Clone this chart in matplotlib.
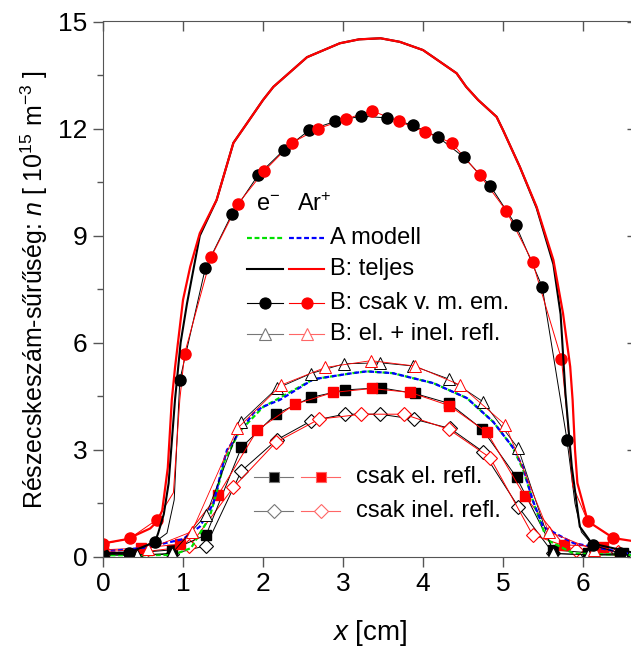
import numpy as np
import matplotlib
matplotlib.use("Agg")
import matplotlib.pyplot as plt
from matplotlib.lines import Line2D

# =========================
# STYLE
# =========================
plt.rcParams["font.family"] = ["Liberation Sans", "DejaVu Sans"]
plt.rcParams["mathtext.fontset"] = "custom"
plt.rcParams["mathtext.rm"] = "Liberation Sans"
plt.rcParams["mathtext.it"] = "Liberation Sans:italic"

RED = "#ff0000"
BLK = "#000000"
GREEN = "#00e000"
BLUE = "#0000ff"

# =========================
# DATA
# =========================
# B: teljes (total), Ar+ and e-
x_ar_tot = [0, 0.3, 0.59, 0.68, 0.74, 0.81, 0.86, 0.9, 1.0, 1.09, 1.21, 1.42, 1.63, 1.8, 2.0, 2.13,
            2.55, 2.96, 3.2, 3.47, 3.71, 4.0, 4.13, 4.42, 4.54, 4.69, 4.92, 5.0, 5.21, 5.42, 5.63,
            5.75, 5.84, 5.87, 5.9, 5.93, 6.06, 6.38, 6.67]
y_ar_tot = [0.38, 0.5, 0.8, 1.0, 1.3, 2.5, 4.4, 5.3, 7.2, 8.13, 9.07, 10.0, 11.6, 12.15, 12.8, 13.17,
            14.0, 14.39, 14.5, 14.53, 14.43, 14.2, 14.0, 13.55, 13.17, 12.8, 12.33, 11.96, 10.93, 9.81, 8.32,
            6.83, 5.33, 4.4, 3.0, 2.07, 1.0, 0.53, 0.43]

# electron total: hidden under the Ar+ total in the bulk, inside it at the walls
x_e_tot = [0, 0.33, 0.65, 0.69, 0.76, 0.82, 0.9, 0.97, 1.05, 1.21, 1.42, 1.63, 1.8, 2.0, 2.13, 2.55,
           2.96, 3.2, 3.47, 3.71, 4.0, 4.13, 4.42, 4.54, 4.69, 4.92, 5.0, 5.21, 5.42, 5.63, 5.72,
           5.78, 5.86, 5.96, 6.11, 6.67]
y_e_tot = [0.1, 0.13, 0.42, 0.67, 1.2, 2.06, 4.4, 6.0, 7.1, 9.0, 10.0, 11.6, 12.15, 12.8, 13.17, 14.0,
           14.39, 14.5, 14.53, 14.43, 14.2, 14.0, 13.55, 13.17, 12.8, 12.33, 11.96, 10.93, 9.78, 8.2, 6.8,
           4.6, 2.53, 0.85, 0.38, 0.1]

# B: csak v. m. em. (circles)
x_ar_vm = [0, 0.34, 0.67, 1.02, 1.35, 1.69, 2.01, 2.36, 2.69, 3.04, 3.36, 3.70, 4.03, 4.36, 4.71,
           5.04, 5.37, 5.73, 6.06, 6.38]
y_ar_vm = [0.36, 0.53, 1.04, 5.7, 8.4, 9.9, 10.8, 11.6, 12.0, 12.27, 12.5, 12.2, 11.9, 11.6, 10.7,
           9.7, 8.26, 5.55, 1.0, 0.53]
xk_ar_vm = [0.88, 0.96, 5.8, 5.87]
yk_ar_vm = [1.8, 4.4, 4.0, 2.0]

x_e_vm = [0, 0.32, 0.65, 0.96, 1.28, 1.61, 1.94, 2.26, 2.58, 2.90, 3.23, 3.55, 3.87, 4.19, 4.51,
          4.84, 5.16, 5.49, 5.80, 6.12, 6.46]
y_e_vm = [0.08, 0.11, 0.42, 4.95, 8.1, 9.6, 10.7, 11.4, 11.96, 12.2, 12.35, 12.3, 12.1, 11.76, 11.2,
          10.4, 9.3, 7.57, 3.28, 0.33, 0.11]
xk_e_vm = [0.80, 0.89, 0.94, 5.9, 5.98]
yk_e_vm = [0.67, 1.6, 4.0, 1.5, 0.7]

# B: el. + inel. refl. (open triangles)
x_ar_tri = [0, 0.56, 1.11, 1.68, 2.23, 2.78, 3.35, 3.90, 4.46, 5.03, 5.57, 6.14]
y_ar_tri = [0.15, 0.22, 0.71, 3.6, 4.82, 5.31, 5.5, 5.35, 4.82, 3.70, 0.71, 0.2]
x_e_tri = [0, 0.43, 0.86, 1.29, 1.73, 2.17, 2.60, 3.01, 3.46, 3.88, 4.33, 4.75, 5.19, 5.63, 6.06, 6.50]
y_e_tri = [0.08, 0.06, 0.10, 1.18, 3.79, 4.72, 5.14, 5.41, 5.44, 5.35, 4.98, 4.35, 3.04, 0.1, 0.06, 0.08]

# csak el. refl. (filled squares)
x_ar_sq = [0, 0.48, 0.96, 1.44, 1.93, 2.40, 2.88, 3.36, 3.84, 4.33, 4.80, 5.27, 5.76, 6.25]
y_ar_sq = [0.2, 0.25, 0.36, 1.74, 3.56, 4.28, 4.61, 4.72, 4.61, 4.24, 3.49, 1.71, 0.34, 0.29]
x_e_sq = [0, 0.43, 0.86, 1.29, 1.73, 2.16, 2.60, 3.02, 3.47, 3.90, 4.33, 4.74, 5.17, 5.63, 6.06, 6.50]
y_e_sq = [0.1, 0.12, 0.2, 0.62, 3.07, 4.0, 4.47, 4.68, 4.74, 4.58, 4.3, 3.58, 2.23, 0.2, 0.12, 0.1]

# csak inel. refl. (open diamonds)
x_ar_dia = [0, 0.53, 1.08, 1.63, 2.16, 2.70, 3.23, 3.76, 4.32, 4.84, 5.37, 5.91, 6.44]
y_ar_dia = [0.1, 0.15, 0.3, 1.95, 3.21, 3.86, 4.0, 4.0, 3.58, 2.78, 0.62, 0.2, 0.15]
x_e_dia = [0, 0.43, 0.86, 1.29, 1.73, 2.17, 2.60, 3.02, 3.46, 3.89, 4.34, 4.75, 5.19, 5.63, 6.06, 6.50]
y_e_dia = [0.05, 0.05, 0.08, 0.32, 2.41, 3.28, 3.81, 4.0, 4.0, 3.86, 3.6, 2.95, 1.41, 0.1, 0.06, 0.05]

# A modell (dashed)
x_ar_A = [0, 0.5, 1.0, 1.21, 1.38, 1.50, 1.55, 1.88, 2.0, 2.21, 2.63, 3.12, 3.3, 3.62, 3.71, 4.13,
          4.55, 4.88, 5.12, 5.25, 5.37, 5.50, 5.88, 6.2, 6.55, 6.67]
y_ar_A = [0.15, 0.25, 0.5, 0.85, 1.5, 2.6, 3.0, 4.03, 4.21, 4.4, 4.98, 5.15, 5.2, 5.15, 5.1, 4.87,
          4.45, 3.78, 3.08, 2.52, 1.6, 0.85, 0.39, 0.25, 0.11, 0.1]
x_e_A = [0, 0.5, 0.88, 1.1, 1.33, 1.42, 1.52, 1.7, 2.0, 2.63, 3.12, 3.3, 3.62, 4.13, 4.55, 4.88,
         5.12, 5.25, 5.4, 5.55, 5.88, 6.67]
y_e_A = [0.05, 0.05, 0.06, 0.25, 1.1, 1.8, 2.7, 3.5, 4.2, 4.98, 5.15, 5.2, 5.15, 4.87, 4.45, 3.78,
         3.08, 2.45, 1.4, 0.48, 0.1, 0.05]

XTICKS = [0, 1, 2, 3, 4, 5, 6]
YTICKS = [0, 3, 6, 9, 12, 15]


def line_through(xm, ym, xk, yk):
    xs = np.array(list(xm) + list(xk))
    ys = np.array(list(ym) + list(yk))
    o = np.argsort(xs)
    return xs[o], ys[o]


# =========================
# FIGURE
# =========================
W, H = 631, 657
fig = plt.figure(figsize=(W / 100, H / 100), dpi=100)
ax = fig.add_axes([103 / W, 100 / H, 534 / W, 535.5 / H])

# thin lower group lines + markers
ax.plot(x_e_dia, y_e_dia, color=BLK, lw=0.7, marker="D", ms=7, mfc="white", mec=BLK, mew=0.8)
ax.plot(x_ar_dia, y_ar_dia, color=RED, lw=0.7, marker="D", ms=7, mfc="white", mec=RED, mew=0.8)
ax.plot(x_e_sq, y_e_sq, color=BLK, lw=0.7, marker="s", ms=7, mfc=BLK, mec=BLK)
ax.plot(x_ar_sq, y_ar_sq, color=RED, lw=0.7, marker="s", ms=7, mfc=RED, mec=RED)
ax.plot(x_e_A, y_e_A, color=GREEN, lw=1.6, dashes=(2.2, 1.2))
ax.plot(x_ar_A, y_ar_A, color=BLUE, lw=1.6, dashes=(2.2, 1.2))
ax.plot(x_e_tri, y_e_tri, color=BLK, lw=0.6, marker="^", ms=9, mfc="white", mec=BLK, mew=0.7)
ax.plot(x_ar_tri, y_ar_tri, color=RED, lw=0.6, marker="^", ms=9, mfc="white", mec=RED, mew=0.7)

# circles series
lx, ly = line_through(x_e_vm, y_e_vm, xk_e_vm, yk_e_vm)
ax.plot(lx, ly, color=BLK, lw=0.7)
lx, ly = line_through(x_ar_vm, y_ar_vm, xk_ar_vm, yk_ar_vm)
ax.plot(lx, ly, color=RED, lw=0.7)
ax.plot(x_e_vm, y_e_vm, ls="none", marker="o", ms=8, color=BLK)
ax.plot(x_ar_vm, y_ar_vm, ls="none", marker="o", ms=8, color=RED)

# totals
ax.plot(x_e_tot, y_e_tot, color=BLK, lw=1.5)
ax.plot(x_ar_tot, y_ar_tot, color=RED, lw=1.6)

ax.set_xlim(0, 6.675)
ax.set_ylim(0, 15)
ax.set_xticks(XTICKS)
ax.set_yticks(YTICKS)
ax.set_yticks(np.arange(1.5, 15, 3), minor=True)
ax.tick_params(axis="both", which="major", direction="out", length=7, width=1,
               color="#555555", labelsize=19, pad=4)
ax.tick_params(axis="y", which="minor", direction="out", length=4, width=1, color="#555555")
for side in ["top", "right"]:
    ax.spines[side].set_visible(False)
for side in ["left", "bottom"]:
    ax.spines[side].set_color("#555555")

top = ax.secondary_xaxis("top")
top.set_xticks(XTICKS)
top.tick_params(direction="in", length=7, width=1, color="#555555", labeltop=False)
top.spines["top"].set_color("#555555")
right = ax.secondary_yaxis("right")
right.set_yticks(YTICKS)
right.tick_params(direction="in", length=7, width=1, color="#555555", labelright=False)
right.spines["right"].set_color("#555555")

ax.set_xlabel("$x$ [cm]", fontsize=20, labelpad=16)
ax.set_ylabel("Részecskeszám-sűrűség: $n$ [ 10$^{15}$ m$^{-3}$ ]", fontsize=18, labelpad=6)

# =========================
# LEGEND (hand made, two columns)
# =========================
def fx(px):
    return px / W


def fy(py):
    return 1 - py / H


def sample(x0, x1, py, color, lw=0.8, dashes=None, marker=None, ms=8, mfc=None):
    kw = dict(color=color, lw=lw, transform=fig.transFigure)
    if dashes is not None:
        kw["dashes"] = dashes
    fig.add_artist(Line2D([fx(x0), fx(x1)], [fy(py), fy(py)], **kw))
    if marker is not None:
        fig.add_artist(Line2D([fx((x0 + x1) / 2)], [fy(py)], ls="none", marker=marker, ms=ms,
                              mfc=mfc if mfc is not None else color, mec=color, mew=0.8,
                              transform=fig.transFigure))


LEG_FS = 17
fig.text(fx(256), fy(205), "e$^{-}$", fontsize=LEG_FS, va="center")
fig.text(fx(297), fy(205), "Ar$^{+}$", fontsize=LEG_FS, va="center")

rows = [238, 269, 303, 334]
sample(247, 283, rows[0], GREEN, lw=1.6, dashes=(2.2, 1.2))
sample(289, 324, rows[0], BLUE, lw=1.6, dashes=(2.2, 1.2))
fig.text(fx(330), fy(rows[0]), "A modell", fontsize=LEG_FS, va="center")

sample(247, 283, rows[1], BLK, lw=1.5)
sample(289, 324, rows[1], RED, lw=1.5)
fig.text(fx(330), fy(rows[1]), "B: teljes", fontsize=LEG_FS, va="center")

sample(247, 283, rows[2], BLK, lw=0.8, marker="o", ms=8)
sample(289, 324, rows[2], RED, lw=0.8, marker="o", ms=8)
fig.text(fx(330), fy(rows[2]), "B: csak v. m. em.", fontsize=LEG_FS, va="center")

sample(247, 283, rows[3], "#777777", lw=0.8, marker="^", ms=9, mfc="white")
sample(289, 324, rows[3], "#ff6666", lw=0.8, marker="^", ms=9, mfc="white")
fig.text(fx(330), fy(rows[3]), "B: el. + inel. refl.", fontsize=LEG_FS, va="center")

rows2 = [477, 511]
sample(254, 293, rows2[0], "#777777", lw=0.8, marker="s", ms=7, mfc=BLK)
sample(301, 340, rows2[0], "#ff6666", lw=0.8, marker="s", ms=7, mfc=RED)
fig.text(fx(356), fy(rows2[0]), "csak el. refl.", fontsize=LEG_FS, va="center")

sample(254, 293, rows2[1], "#777777", lw=0.8, marker="D", ms=7, mfc="white")
sample(301, 340, rows2[1], "#ff6666", lw=0.8, marker="D", ms=7, mfc="white")
fig.text(fx(356), fy(rows2[1]), "csak inel. refl.", fontsize=LEG_FS, va="center")

fig.savefig("out.png", dpi=100)
